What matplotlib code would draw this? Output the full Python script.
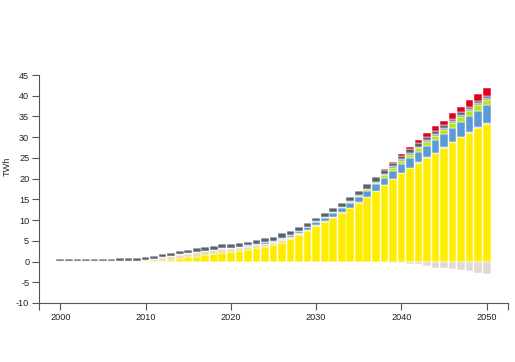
import matplotlib
matplotlib.use("Agg")
import matplotlib.pyplot as plt
import numpy as np

years = list(range(2000, 2051))

solar = [0, 0, 0, 0, 0, 0, 0, 0, 0, 0, 0.05,
         0.1, 0.2, 0.4, 0.6, 1.0, 1.2, 1.5, 1.8, 2.1,
         2.4, 2.6, 2.9, 3.3, 3.5, 4.1, 4.5, 5.4, 6.4, 7.4,
         8.5, 9.5, 10.6, 11.7, 12.8, 14.2, 15.5, 17.0, 18.4, 19.9,
         21.3, 22.5, 23.8, 25.0, 26.2, 27.5, 28.8, 30.0, 31.1, 32.3, 33.3]

beige = [0.05, 0.05, 0.05, 0.05, 0.05, 0.05, 0.1, 0.1, 0.1, 0.15, 0.25,
         0.5, 0.7, 0.85, 1.0, 0.9, 1.05, 1.0, 0.95, 1.0,
         0.7, 0.75, 0.7, 0.65, 0.7, 0.45, 0.7, 0.35, 0.25, 0.15,
         0.1, 0.1, 0.05, 0.05, 0.05, 0, 0, 0, 0, 0,
         0, 0, 0, 0, 0, 0, 0, 0, 0, 0, 0]

lavender = [0, 0, 0, 0, 0, 0, 0, 0, 0, 0, 0.05,
            0.1, 0.1, 0.1, 0.1, 0.1, 0.1, 0.1, 0.1, 0.1,
            0.15, 0.15, 0.15, 0.15, 0.15, 0.15, 0.15, 0.15, 0.15, 0.15,
            0.15, 0.1, 0.1, 0.1, 0.1, 0.1, 0.1, 0.1, 0.1, 0.1,
            0.1, 0.1, 0.1, 0.1, 0.1, 0.1, 0.1, 0.1, 0.1, 0.1, 0.1]

blue = [0, 0, 0, 0, 0, 0, 0, 0, 0, 0, 0,
        0, 0, 0, 0, 0, 0, 0, 0, 0,
        0.05, 0.1, 0.15, 0.2, 0.3, 0.35, 0.4, 0.5, 0.55, 0.6,
        0.7, 0.8, 0.9, 1.0, 1.1, 1.2, 1.4, 1.5, 1.6, 1.8,
        2.1, 2.3, 2.5, 2.8, 3.0, 3.1, 3.4, 3.6, 3.8, 4.0, 4.3]

green = [0, 0, 0, 0, 0, 0, 0, 0, 0, 0, 0,
         0, 0, 0, 0, 0, 0, 0, 0, 0,
         0, 0, 0, 0, 0, 0, 0, 0, 0.1, 0.15,
         0.2, 0.2, 0.25, 0.25, 0.3, 0.35, 0.4, 0.45, 0.7, 0.75,
         0.8, 0.85, 0.9, 0.95, 1.0, 1.05, 1.1, 1.15, 1.2, 1.25, 1.3]

lightgrey = [0, 0, 0, 0, 0, 0, 0, 0, 0, 0, 0,
             0, 0, 0, 0, 0, 0, 0, 0, 0,
             0, 0, 0, 0, 0, 0, 0, 0, 0, 0,
             0.1, 0.1, 0.1, 0.15, 0.15, 0.15, 0.2, 0.2, 0.35, 0.4,
             0.4, 0.4, 0.45, 0.45, 0.45, 0.5, 0.5, 0.5, 0.55, 0.55, 0.55]

darkgrey = [0.55, 0.55, 0.55, 0.55, 0.6, 0.6, 0.6, 0.65, 0.65, 0.7, 0.7,
            0.7, 0.75, 0.8, 0.85, 0.85, 0.85, 0.9, 0.95, 1.0,
            0.9, 0.9, 0.9, 0.9, 0.95, 0.95, 1.05, 1.0, 0.95, 0.95,
            0.85, 0.9, 0.9, 0.85, 1.0, 1.0, 1.0, 1.05, 0.85, 0.75,
            0.8, 0.95, 0.85, 0.8, 0.85, 0.65, 0.6, 0.65, 0.55, 0.5, 0.45]

red = [0, 0, 0, 0, 0, 0, 0, 0, 0, 0, 0,
       0, 0, 0, 0, 0, 0, 0, 0, 0,
       0, 0, 0, 0, 0, 0, 0, 0, 0, 0,
       0, 0, 0, 0, 0, 0, 0, 0, 0.3, 0.4,
       0.5, 0.6, 0.7, 0.9, 1.0, 1.1, 1.3, 1.4, 1.6, 1.7, 1.9]

negative = [0, 0, 0, 0, 0, 0, 0, 0, 0, 0, 0,
            0, 0, 0, 0, 0, 0, 0, 0, 0,
            0, 0, 0, 0, 0, 0, 0, 0, 0, 0,
            0, 0, 0, 0, 0, 0, 0.05, 0.05, 0.15, 0.25,
            0.4, 0.65, 0.65, 1.0, 1.45, 1.5, 1.8, 2.1, 2.35, 2.75, 2.9]

series = [
    (solar, "#ffed00"),
    (beige, "#e8dfb5"),
    (lavender, "#c9c3da"),
    (blue, "#5b9bd5"),
    (green, "#b5e51d"),
    (lightgrey, "#9a9ea6"),
    (darkgrey, "#5b6370"),
    (red, "#e3001b"),
]

yticks = [-10, -5, 0, 5, 10, 15, 20, 25, 30, 35, 40, 45]
xticks = [2000, 2010, 2020, 2030, 2040, 2050]

plt.rcParams['font.family'] = ['Liberation Sans', 'DejaVu Sans']
plt.rcParams['axes.unicode_minus'] = False

fig = plt.figure(figsize=(5.15, 3.62), dpi=100)
ax = fig.add_axes([39 / 515, 1 - 303 / 362, (508 - 39) / 515, (303 - 75) / 362])

x = np.array(years)
bottom = np.zeros(len(years))
for vals, col in series:
    v = np.array(vals, dtype=float)
    ax.bar(x, v, bottom=bottom, width=0.9, color=col, edgecolor="white", linewidth=0.35)
    bottom += v

ax.bar(x, -np.array(negative), width=0.9, color="#e0d9d5", edgecolor="white", linewidth=0.35)

ax.set_xlim(1997.5, 2052.5)
ax.set_ylim(-10, 45)
ax.set_yticks(yticks)
ax.set_xticks(xticks)
ax.set_xticks([1997.5, 2052.5], minor=True)
ax.tick_params(axis="x", which="minor", length=5, width=0.8, color="#555555")

for s in ["top", "right"]:
    ax.spines[s].set_visible(False)
for s in ["left", "bottom"]:
    ax.spines[s].set_color("#555555")
    ax.spines[s].set_linewidth(0.8)

ax.tick_params(axis="both", which="major", length=5, width=0.8, color="#555555",
               labelsize=6.6, labelcolor="#222222", pad=2)

ax.set_ylabel("TWh", fontsize=6.6, color="#222222")
ax.yaxis.set_label_coords(-0.0576, 0.6)

fig.savefig("out.png", dpi=100)
